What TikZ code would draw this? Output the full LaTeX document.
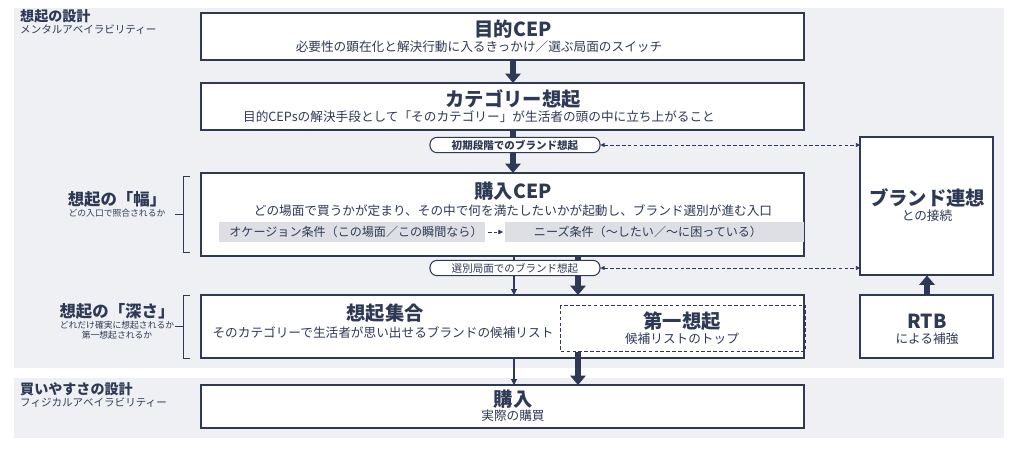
\documentclass[tikz,border=0pt]{standalone}
\usepackage{fontspec}
\setmainfont{Noto Sans CJK JP}
\usetikzlibrary{arrows.meta}
\definecolor{navy}{HTML}{2E3A55}
\definecolor{panel}{HTML}{EEF0F4}
\definecolor{bar}{HTML}{DDDFE4}
\begin{document}
\begin{tikzpicture}[x=0.03cm,y=-0.03cm,
 box/.style={draw=navy,line width=1.8pt,fill=white},
 ttl/.style={text=navy,font=\bfseries\fontsize{16.5}{18}\selectfont},
 sub/.style={text=navy,font=\fontsize{10.8}{12}\selectfont},
 bsub/.style={text=navy,font=\fontsize{10.3}{12}\selectfont},
 pill/.style={draw=navy,line width=0.9pt,fill=white,rounded corners=6pt,minimum width=5.1cm,minimum height=0.46cm,inner sep=0,text=navy,font=\bfseries\fontsize{9}{10}\selectfont},
 big/.style={-{Triangle[length=8pt,width=13pt]},line width=5pt,navy},
 thin/.style={-{Triangle[length=5pt,width=5pt]},line width=0.9pt,navy},
 dasharr/.style={{Triangle[length=3.5pt,width=3.5pt]}-{Triangle[length=3.5pt,width=3.5pt]},densely dashed,line width=0.7pt,navy},
 lbl/.style={text=navy,font=\bfseries\fontsize{14}{16}\selectfont,inner sep=0},
 lhd/.style={text=navy,font=\bfseries\fontsize{12}{14}\selectfont,inner sep=0},
 lsub/.style={text=navy,font=\fontsize{9}{10}\selectfont,inner sep=0},
 lsm/.style={text=navy,font=\fontsize{7.5}{8.5}\selectfont,inner sep=0}]
\useasboundingbox (0,0) rectangle (1024,453);
\fill[white] (0,0) rectangle (1024,453);
\fill[panel] (14,8) rectangle (1004,368);
\fill[panel] (14,378) rectangle (1004,438);
% left labels
\node[lhd,anchor=north west] (l1) at (20,9) {想起の設計};
\node[lsub,anchor=north west] (l1s) at (20,25) {メンタルアベイラビリティー};
\node[lbl] (l2) at (117,199) {想起の「幅」};
\node[lsm] (l2s) at (117,213) {どの入口で照合されるか};
\node[lbl] (l3) at (117,311) {想起の「深さ」};
\node[lsm] (l3s) at (117,325) {どれだけ確実に想起されるか};
\node[lsm] (l3t) at (117,335) {第一想起されるか};
\node[lhd,anchor=north west] (l4) at (20,382) {買いやすさの設計};
\node[lsub,anchor=north west] (l4s) at (20,398) {フィジカルアベイラビリティー};
\draw[navy,line width=0.7pt] (190,176) -- (183,176) -- (183,252) -- (190,252) (175,214) -- (183,214);
\draw[navy,line width=0.7pt] (190,295) -- (183,295) -- (183,358) -- (190,358) (175,326) -- (183,326);
% boxes
\draw[box] (201,13) rectangle (804,60);
\node[ttl] (t1) at (513,29) {目的CEP};
\node[sub] at (479,47) {必要性の顕在化と解決行動に入るきっかけ／選ぶ局面のスイッチ};
\draw[box] (201,83) rectangle (804,130);
\node[ttl] (t2) at (513,99) {カテゴリー想起};
\node[sub] at (479,117) {目的CEPsの解決手段として「そのカテゴリー」が生活者の頭の中に立ち上がること};
\draw[box] (201,173) rectangle (804,256);
\node[ttl] (t3) at (513,191) {購入CEP};
\node[sub] at (513,211) {どの場面で買うかが定まり、その中で何を満たしたいかが起動し、ブランド選別が進む入口};
\fill[bar] (219,222) rectangle (485,242);
\fill[bar] (505,222) rectangle (804,242);
\node[bsub] (oc) at (356,232) {オケージョン条件（この場面／この瞬間なら）};
\node[bsub] (nd) at (648,232) {ニーズ条件（〜したい／〜に困っている）};
\coordinate (da) at (488,232); \coordinate (db) at (503,232);
\draw[densely dashed,line width=0.7pt,navy,-{Triangle[length=4pt,width=4pt]}] (da) -- (db);
\draw[box] (201,295) rectangle (804,358);
\node[ttl] (t4) at (385,313) {想起集合};
\node[sub] at (383,333) {そのカテゴリーで生活者が思い出せるブランドの候補リスト};
\draw[navy,densely dashed,line width=0.7pt] (560,305) rectangle (805,351);
\node[ttl] (t5) at (682,321) {第一想起};
\node[sub] at (682,339) {候補リストのトップ};
\draw[box] (201,385) rectangle (804,428);
\node[ttl] (t6) at (513,399) {購入};
\node[sub] at (513,416) {実際の購買};
\draw[box] (860,137) rectangle (993,275);
\node[ttl] (br) at (927,198) {ブランド連想};
\node[sub] at (927,216) {との接続};
\draw[box] (860,295) rectangle (993,358);
\node[ttl] (rtb) at (927,321) {RTB};
\node[sub] at (927,339) {による補強};
% pills
\node[pill] (p1) at (515,145) {初期段階でのブランド想起};
\node[pill] (p2) at (515,268) {\mdseries 選別局面でのブランド想起};
% arrows
\coordinate (a1) at (513,61); \coordinate (a2) at (513,83);
\draw[big] (a1) -- (a2);
\coordinate (a3) at (513,131); \coordinate (a4) at (513,173);
\draw[line width=5pt,navy] (a3) -- (513,137);
\draw[big] (513,153) -- (a4);
\draw[thin] (514,257) -- (514,261) (514,276) -- (514,295);
\draw[line width=5pt,navy] (578,257) -- (578,261);
\draw[big] (578,276) -- (578,295);
\draw[thin] (514,359) -- (514,385);
\draw[big] (578,352) -- (578,385);
\draw[big] (927,295) -- (927,275.5);
\draw[dasharr] (p1.east) -- (860,145);
\draw[dasharr] (p2.east) -- (860,268);
\end{tikzpicture}
\end{document}
